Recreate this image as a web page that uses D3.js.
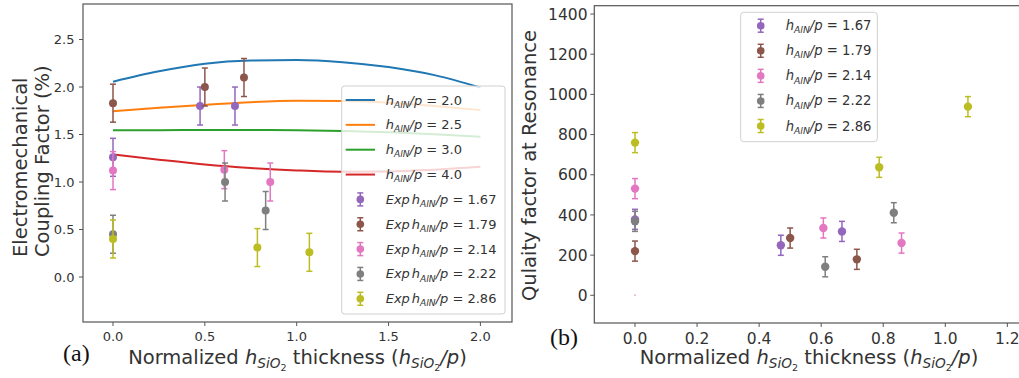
<!DOCTYPE html>
<html><head><meta charset="utf-8">
<script src="https://cdn.jsdelivr.net/npm/d3@7"></script>
<style>body{margin:0;background:#fff}svg{display:block}</style>
</head><body><svg id="c" width="1019" height="378"></svg>
<script>
// ---------------- data ----------------
const simX   = [0, 0.25, 0.5, 0.75, 1.0, 1.25, 1.5, 1.75, 2.0];
const simH20 = [2.056, 2.165, 2.245, 2.278, 2.284, 2.262, 2.21, 2.125, 1.995];
const simH25 = [1.745, 1.782, 1.812, 1.840, 1.855, 1.852, 1.835, 1.800, 1.757];
const simH30 = [1.544, 1.546, 1.547, 1.547, 1.545, 1.538, 1.523, 1.503, 1.477];
const simH40 = [1.29, 1.235, 1.185, 1.148, 1.122, 1.108, 1.11, 1.13, 1.16];
const simLabels = ["2.0", "2.5", "3.0", "4.0"];

const expLabels = ["1.67", "1.79", "2.14", "2.22", "2.86"];
const expKx = [[0, 0.474, 0.664], [0, 0.5, 0.713], [0, 0.606, 0.856], [0, 0.61, 0.831], [0, 0.786, 1.069]];
const expK  = [[1.26, 1.80, 1.80], [1.83, 2.0, 2.10], [1.12, 1.13, 1.0], [0.45, 1.0, 0.70], [0.40, 0.31, 0.26]];
const expKerr = 0.2;
const expQx = [[0, 0.470, 0.667], [0, 0.50, 0.715], [0, 0.607, 0.859], [0, 0.613, 0.834], [0, 0.787, 1.073]];
const expQ  = [[378, 249, 318], [220, 285, 179], [531, 335, 260], [368, 142, 411], [760, 637, 939]];
const expQerr = 50;
const strayQx = [0], strayQ = [0];

const leftXTicks  = [0, 0.5, 1.0, 1.5, 2.0];
const leftYTicks  = [0, 0.5, 1.0, 1.5, 2.0, 2.5];
const rightXTicks = [0, 0.2, 0.4, 0.6, 0.8, 1.0, 1.2];
const rightYTicks = [0, 200, 400, 600, 800, 1000, 1200, 1400];

// ---------------- styling ----------------
const simColors = ["#1f77b4", "#ff7f0e", "#2ca02c", "#d62728"];
const expColors = ["#9467bd", "#8c564b", "#e377c2", "#7f7f7f", "#bcbd22"];
const FONT = "'DejaVu Sans', sans-serif";
const TXT = "#333";
const svg = d3.select("#c");
svg.append("rect").attr("width", 1019).attr("height", 378).attr("fill", "#fff");

// rich text helper: segs = [text, italic?, level]
function rich(sel, segs, size) {
  let prev = 0;
  const off = [0, 0.24 * size, 0.24 * size + 0.16 * size];
  const fs = [size, size * 0.7, size * 0.49];
  segs.forEach(([t, it, lv, dx]) => {
    const ts = sel.append("tspan").text(t)
      .attr("font-size", fs[lv || 0])
      .attr("font-style", it ? "italic" : "normal")
      .attr("dy", off[lv || 0] - prev);
    if (dx) ts.attr("dx", dx);
    prev = off[lv || 0];
  });
}
const hAlN = [["h", 1, 0], ["AlN", 1, 1], ["/p", 1, 0]];
const xLabelSegs = [["Normalized ", 0, 0], ["h", 1, 0], ["SiO", 1, 1], ["2", 0, 2],
  [" thickness (", 0, 0], ["h", 1, 0], ["SiO", 1, 1], ["2", 0, 2], ["/p", 1, 0], [")", 0, 0]];

function frameAndTicks(g, x, y, xt, yt, fx, fy, tickFont, xLabY, yLabX) {
  const [x0, x1] = x.range(), [y1, y0] = y.range();
  g.append("rect").attr("x", x0).attr("y", y0).attr("width", x1 - x0).attr("height", y1 - y0)
    .attr("fill", "none").attr("stroke", "#555").attr("stroke-width", 1.2);
  xt.forEach(v => {
    g.append("line").attr("x1", x(v)).attr("x2", x(v)).attr("y1", y1).attr("y2", y1 + 4)
      .attr("stroke", "#555").attr("stroke-width", 1);
    g.append("text").attr("x", x(v)).attr("y", xLabY).attr("text-anchor", "middle")
      .attr("font-family", FONT).attr("font-size", tickFont).attr("fill", TXT).text(fx(v));
  });
  yt.forEach(v => {
    g.append("line").attr("x1", x0 - 4).attr("x2", x0).attr("y1", y(v)).attr("y2", y(v))
      .attr("stroke", "#555").attr("stroke-width", 1);
    g.append("text").attr("x", yLabX).attr("y", y(v) + tickFont * 0.36).attr("text-anchor", "end")
      .attr("font-family", FONT).attr("font-size", tickFont).attr("fill", TXT).text(fy(v));
  });
}

function errPoints(g, x, y, xs, vs, err, color, r) {
  xs.forEach((xv, i) => {
    const cx = x(xv), v = vs[i];
    const gg = g.append("g").attr("stroke", color).attr("stroke-width", 1.5);
    gg.append("line").attr("x1", cx).attr("x2", cx).attr("y1", y(v - err)).attr("y2", y(v + err));
    gg.append("line").attr("x1", cx - 3).attr("x2", cx + 3).attr("y1", y(v - err)).attr("y2", y(v - err));
    gg.append("line").attr("x1", cx - 3).attr("x2", cx + 3).attr("y1", y(v + err)).attr("y2", y(v + err));
    g.append("circle").attr("cx", cx).attr("cy", y(v)).attr("r", r).attr("fill", color);
  });
}
function legendErr(g, cx, cy, color) {
  const gg = g.append("g").attr("stroke", color).attr("stroke-width", 1.5);
  gg.append("line").attr("x1", cx).attr("x2", cx).attr("y1", cy - 6.5).attr("y2", cy + 6.5);
  gg.append("line").attr("x1", cx - 3).attr("x2", cx + 3).attr("y1", cy - 6.5).attr("y2", cy - 6.5);
  gg.append("line").attr("x1", cx - 3).attr("x2", cx + 3).attr("y1", cy + 6.5).attr("y2", cy + 6.5);
  g.append("circle").attr("cx", cx).attr("cy", cy).attr("r", 3.8).attr("fill", color);
}

// ---------------- left panel ----------------
const xL = d3.scaleLinear().domain([-0.1633, 2.172]).range([83, 512]);
const yL = d3.scaleLinear().domain([-0.4737, 2.874]).range([322, 4]);
const gL = svg.append("g");
frameAndTicks(gL, xL, yL, leftXTicks, leftYTicks, d3.format(".1f"), d3.format(".1f"), 13, 340.5, 74.5);

const sims = [simH20, simH25, simH30, simH40];
const line = d3.line().curve(d3.curveMonotoneX);
sims.forEach((s, k) => {
  gL.append("path").attr("d", line(simX.map((xv, i) => [xL(xv), yL(s[i])])))
    .attr("fill", "none").attr("stroke", simColors[k]).attr("stroke-width", 2);
});
expK.forEach((vs, k) => errPoints(gL, xL, yL, expKx[k], vs, expKerr, expColors[k], 4));

// left legend
gL.append("rect").attr("x", 341.7).attr("y", 86).attr("width", 163.3).attr("height", 228).attr("rx", 3)
  .attr("fill", "rgba(255,255,255,0.8)").attr("stroke", "#d0d0d0").attr("stroke-width", 1);
const rowY0 = 100, rowDy = 24.85;
simLabels.forEach((lab, k) => {
  const cy = rowY0 + k * rowDy;
  gL.append("line").attr("x1", 345.7).attr("x2", 375).attr("y1", cy).attr("y2", cy)
    .attr("stroke", simColors[k]).attr("stroke-width", 2);
  const t = gL.append("text").attr("x", 385.7).attr("y", cy + 4.5).attr("font-family", FONT).attr("fill", TXT);
  rich(t, [...hAlN, [" = " + lab, 0, 0]], 13);
});
expLabels.forEach((lab, k) => {
  const cy = rowY0 + (k + 4) * rowDy;
  legendErr(gL, 360.3, cy, expColors[k]);
  const t = gL.append("text").attr("x", 385.7).attr("y", cy + 4.5).attr("font-family", FONT).attr("fill", TXT);
  rich(t, [["Exp", 1, 0], ...hAlN.map((s, i) => i === 0 ? [s[0], s[1], s[2], 2] : s), [" = " + lab, 0, 0]], 13);
});

// left axis labels
const yl = gL.append("text").attr("transform", "rotate(-90)").attr("font-family", FONT)
  .attr("font-size", 19.5).attr("fill", TXT).attr("text-anchor", "start");
yl.append("tspan").attr("x", -257).attr("y", 27).text("Electromechanical");
yl.append("tspan").attr("x", -257).attr("y", 49).text("Coupling Factor (%)");
const xl = gL.append("text").attr("x", 297.5).attr("y", 363.5).attr("text-anchor", "middle")
  .attr("font-family", FONT).attr("font-size", 19.5).attr("fill", TXT);
rich(xl, xLabelSegs, 19.5);
gL.append("text").attr("x", 63).attr("y", 361).attr("font-family", "'Liberation Serif', serif")
  .attr("font-size", 24).attr("fill", "#111").text("(a)");

// ---------------- right panel ----------------
const xR = d3.scaleLinear().domain([-0.1312, 1.273]).range([594.3, 1030]);
const yR = d3.scaleLinear().domain([-137.9, 1441.5]).range([323, 5.7]);
const gR = svg.append("g");
frameAndTicks(gR, xR, yR, rightXTicks, rightYTicks, d3.format(".1f"), d3.format("d"), 15.5, 343.5, 587.5);
strayQ.forEach((v, i) => gR.append("circle").attr("cx", xR(strayQx[i])).attr("cy", yR(v)).attr("r", 1)
  .attr("fill", expColors[2]).attr("opacity", 0.6));
expQ.forEach((vs, k) => errPoints(gR, xR, yR, expQx[k], vs, expQerr, expColors[k], 4.2));

gR.append("rect").attr("x", 740.7).attr("y", 12.3).attr("width", 136.6).attr("height", 129.4).attr("rx", 3)
  .attr("fill", "rgba(255,255,255,0.8)").attr("stroke", "#d0d0d0").attr("stroke-width", 1);
expLabels.forEach((lab, k) => {
  const cy = 25.7 + k * 25.08;
  legendErr(gR, 760.7, cy, expColors[k]);
  const t = gR.append("text").attr("x", 785.7).attr("y", cy + 4.5).attr("font-family", FONT).attr("fill", TXT);
  rich(t, [...hAlN, [" = " + lab, 0, 0]], 13.2);
});
gR.append("text").attr("transform", "rotate(-90)").attr("x", -165.5).attr("y", 536)
  .attr("text-anchor", "middle").attr("font-family", FONT).attr("font-size", 19.5).attr("fill", TXT)
  .text("Qulaity factor at Resonance");
const xr = gR.append("text").attr("x", 809).attr("y", 363.5).attr("text-anchor", "middle")
  .attr("font-family", FONT).attr("font-size", 19.5).attr("fill", TXT);
rich(xr, xLabelSegs, 19.5);
gR.append("text").attr("x", 550).attr("y", 345).attr("font-family", "'Liberation Serif', serif")
  .attr("font-size", 24).attr("fill", "#111").text("(b)");
</script></body></html>
